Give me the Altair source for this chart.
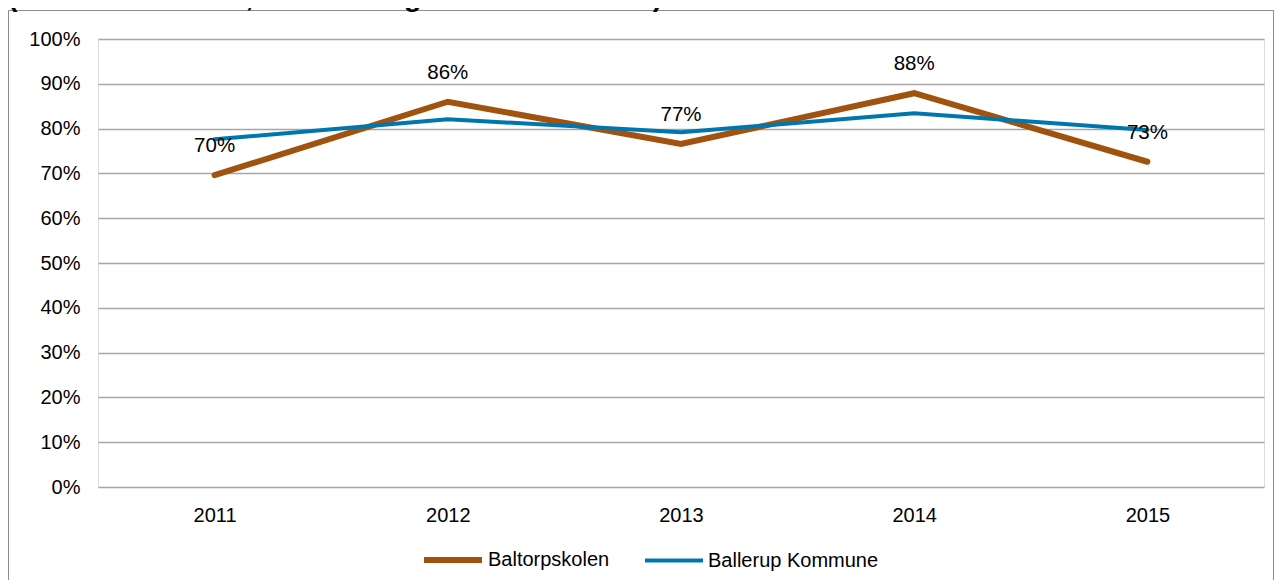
import altair as alt
import pandas as pd

years = ["2011", "2012", "2013", "2014", "2015"]
baltorp = [0.696, 0.860, 0.766, 0.879, 0.726]
ballerup = [0.776, 0.821, 0.792, 0.834, 0.797]
series_names = ["Baltorpskolen", "Ballerup Kommune"]
series_colors = ["#A0520F", "#0076AE"]
series_widths = [6, 4]
title_text = "(årstallet er det år, som de unge forlod 9. klasse)"

FONT = "Liberation Sans"

rows = []
for y, v in zip(years, baltorp):
    rows.append({"year": y, "value": v, "series": series_names[0]})
for y, v in zip(years, ballerup):
    rows.append({"year": y, "value": v, "series": series_names[1]})
df = pd.DataFrame(rows)

legend_kw = dict(title=None, orient="none", legendX=323, legendY=489,
                 direction="horizontal", symbolType="stroke",
                 symbolSize=3364, labelFontSize=20, labelFont=FONT,
                 labelColor="#000000", columnPadding=27, labelOffset=3,
                 labelLimit=400)

xenc = alt.X("year:O", scale=alt.Scale(type="point", padding=0.5),
             axis=alt.Axis(title=None, labelAngle=0, ticks=False, domain=False,
                           labelPadding=18, labelFontSize=20, labelColor="#000000",
                           labelFont=FONT, grid=False))
yenc = alt.Y("value:Q", scale=alt.Scale(domain=[0, 1], nice=False),
             axis=alt.Axis(title=None, format=".0%", values=[i / 10 for i in range(11)],
                           ticks=False, domain=False, labelPadding=18, labelFontSize=20,
                           labelColor="#000000", labelFont=FONT, grid=True,
                           gridColor="#A6A6A6", gridWidth=1.4))
color = alt.Color("series:N", scale=alt.Scale(domain=series_names, range=series_colors),
                  legend=alt.Legend(**legend_kw))
swidth = alt.StrokeWidth("series:N", scale=alt.Scale(domain=series_names, range=series_widths),
                         legend=alt.Legend(**legend_kw))

base = alt.Chart(df)

line1 = base.transform_filter(alt.datum.series == series_names[0]).mark_line(strokeCap="round", strokeJoin="miter").encode(
    x=xenc, y=yenc, color=color, strokeWidth=swidth)
line2 = base.transform_filter(alt.datum.series == series_names[1]).mark_line(strokeCap="round", strokeJoin="miter").encode(
    x=xenc, y=yenc, color=color, strokeWidth=swidth)

labels = base.transform_filter(alt.datum.series == series_names[0]).mark_text(
    dy=-29, fontSize=20.5, font=FONT, color="#000000").encode(
    x=xenc, y=yenc, text=alt.Text("value:Q", format=".0%"))

frame = alt.Chart(pd.DataFrame({"k": [0]})).mark_rect(
    fill=None, stroke="#8C8C8C", strokeWidth=1).encode(
    x=alt.value(-89.5), x2=alt.value(1175.5), y=alt.value(-28.5), y2=alt.value(620))

title = alt.Chart(pd.DataFrame({"t": [title_text]})).mark_text(
    align="left", baseline="alphabetic", fontSize=28.5, fontWeight="bold", font=FONT,
    color="#000000").encode(x=alt.value(-90), y=alt.value(-33), text="t:N")

chart = alt.layer(frame, title, line1, line2, labels).properties(
    width=1166, height=448,
    autosize=alt.AutoSizeParams(type="none"),
    padding={"left": 90, "top": 31, "right": 10, "bottom": 93},
).configure_view(stroke=None).configure(background="#FFFFFF")

chart.save("out.html", embed_options={"renderer": "svg", "actions": False})
